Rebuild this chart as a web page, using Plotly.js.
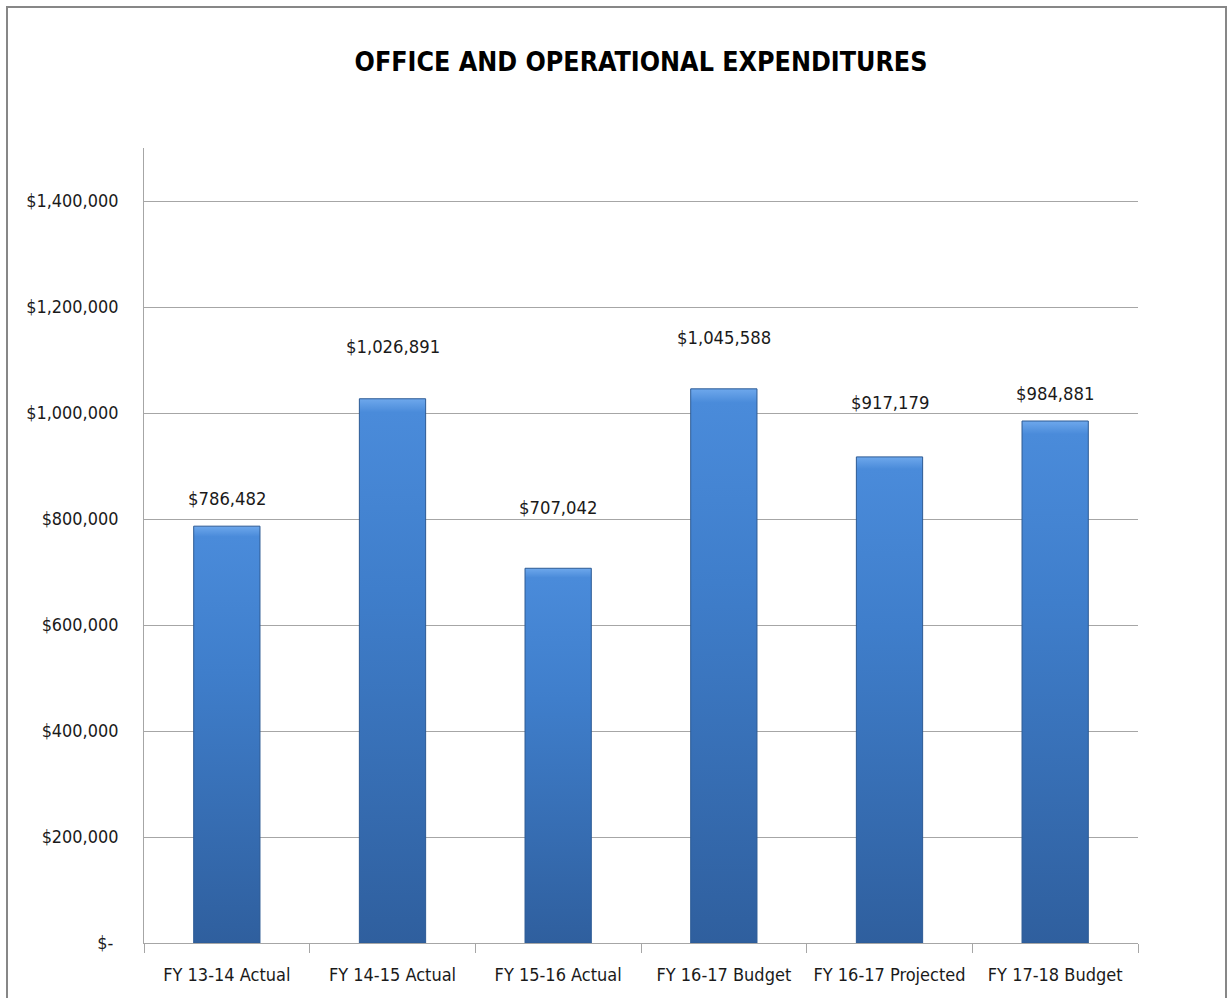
<!DOCTYPE html>
<html>
<head>
<meta charset="utf-8">
<script src="https://cdn.plot.ly/plotly-3.0.1.min.js"></script>
<style>
  html, body { margin: 0; padding: 0; background: #ffffff; }
  #frame { position: absolute; left: 6px; top: 6px; width: 1221px; height: 1000px; border: 2px solid #878787; box-sizing: border-box; pointer-events: none; z-index: 5; }
  #chart { position: absolute; left: 0; top: 0; width: 1227px; height: 998px; }
</style>
</head>
<body>
<div id="chart"></div>
<div id="frame"></div>
<script>
// ---- data ----
const categories = ["FY 13-14 Actual", "FY 14-15 Actual", "FY 15-16 Actual", "FY 16-17 Budget", "FY 16-17 Projected", "FY 17-18 Budget"];
const expenditures = [786482, 1026891, 707042, 1045588, 917179, 984881];
const valueLabels = ["$786,482", "$1,026,891", "$707,042", "$1,045,588", "$917,179", "$984,881"];
const yTickValues = [0, 200000, 400000, 600000, 800000, 1000000, 1200000, 1400000];
const yTickLabels = ["$-\u00a0", "$200,000", "$400,000", "$600,000", "$800,000", "$1,000,000", "$1,200,000", "$1,400,000"];
const chartTitle = "OFFICE AND OPERATIONAL EXPENDITURES";

// ---- label placement (pixels above bar top, as placed in the original) ----
const labelLift = [28, 52, 61, 51, 54, 28];

// ---- pick the narrowest installed font and size it to the original text widths ----
const ctx = document.createElement('canvas').getContext('2d');
function widthOf(str, font) { ctx.font = font; return ctx.measureText(str).width; }
function installed(fam) {
  const probe = 'mmmmmmmmmmlli1234567890WW';
  return ['monospace', 'serif'].some(fb => widthOf(probe, `40px "${fam}", ${fb}`) !== widthOf(probe, `40px ${fb}`));
}
const candidates = ["Liberation Sans Narrow", "DejaVu Sans Condensed", "Roboto Condensed", "Roboto"];
let FAM = candidates.find(installed) || "Roboto";
const FONT = `"${FAM}", Roboto, sans-serif`;
function fitSize(str, target, weight) {
  const w = widthOf(str, `${weight} 100px "${FAM}", Roboto, sans-serif`);
  return Math.round(100 * target / w * 10) / 10;
}
const tickSize = fitSize("$1,400,000", 92, 'normal');
const xTickSize = fitSize("FY 13-14 Actual", 127, 'normal');
const labelSize = fitSize("$1,026,891", 94, 'normal');
const titleSize = fitSize(chartTitle, 573, 'bold');

const trace = {
  type: 'bar',
  x: categories,
  y: expenditures,
  width: 0.4,
  marker: { color: '#3c78c3', line: { color: '#2c5a94', width: 1 } },
  hoverinfo: 'skip'
};

const annotations = categories.map((c, i) => ({
  x: c, y: expenditures[i], xref: 'x', yref: 'y',
  text: valueLabels[i], showarrow: false,
  yanchor: 'middle', yshift: labelLift[i],
  font: { family: FONT, size: labelSize, color: '#1a1a1a' }
}));

const layout = {
  width: 1227, height: 998,
  margin: { l: 144, r: 89, t: 148, b: 55, pad: 0 },
  paper_bgcolor: '#ffffff', plot_bgcolor: '#ffffff',
  showlegend: false,
  title: {
    text: '<b>' + chartTitle + '</b>',
    x: 0.5, xref: 'paper', xanchor: 'center',
    y: 1 - 62 / 998, yref: 'container', yanchor: 'middle',
    font: { family: FONT, size: titleSize, color: '#000000' }
  },
  xaxis: {
    type: 'category',
    showline: true, linecolor: '#a6a6a6', linewidth: 1,
    ticks: 'outside', tickson: 'boundaries', ticklen: 9, tickcolor: '#a6a6a6', tickwidth: 1,
    tickangle: 0,
    ticklabelstandoff: 15,
    tickfont: { family: FONT, size: xTickSize, color: '#1a1a1a' },
    showgrid: false, zeroline: false, fixedrange: true
  },
  yaxis: {
    range: [0, 1500000],
    tickvals: yTickValues, ticktext: yTickLabels,
    showline: true, linecolor: '#a6a6a6', linewidth: 1,
    showgrid: true, gridcolor: '#a6a6a6', gridwidth: 1,
    zeroline: false, ticks: '',
    ticklabelstandoff: 21,
    tickfont: { family: FONT, size: tickSize, color: '#1a1a1a' },
    fixedrange: true
  },
  annotations: annotations
};

function applyGradient(gd) {
  const svg = gd.querySelector('svg.main-svg');
  if (!svg) return;
  const ns = 'http://www.w3.org/2000/svg';
  if (!svg.querySelector('#barGrad')) {
    let defs = svg.querySelector('defs');
    if (!defs) { defs = document.createElementNS(ns, 'defs'); svg.insertBefore(defs, svg.firstChild); }
    const lg = document.createElementNS(ns, 'linearGradient');
    lg.setAttribute('id', 'barGrad');
    lg.setAttribute('x1', '0'); lg.setAttribute('y1', '0');
    lg.setAttribute('x2', '0'); lg.setAttribute('y2', '1');
    [['0', '#6ea8ec'], ['0.025', '#4a8bda'], ['0.35', '#3f7ecb'], ['1', '#2f5f9e']].forEach(([o, c]) => {
      const s = document.createElementNS(ns, 'stop');
      s.setAttribute('offset', o); s.setAttribute('stop-color', c);
      lg.appendChild(s);
    });
    defs.appendChild(lg);
  }
  gd.querySelectorAll('.barlayer .point path').forEach(p => { p.style.fill = 'url(#barGrad)'; });
}

const gd = document.getElementById('chart');
Plotly.newPlot(gd, [trace], layout, { displayModeBar: false, staticPlot: true }).then(() => {
  applyGradient(gd);
  gd.on && gd.on('plotly_afterplot', () => applyGradient(gd));
});
</script>
</body>
</html>
